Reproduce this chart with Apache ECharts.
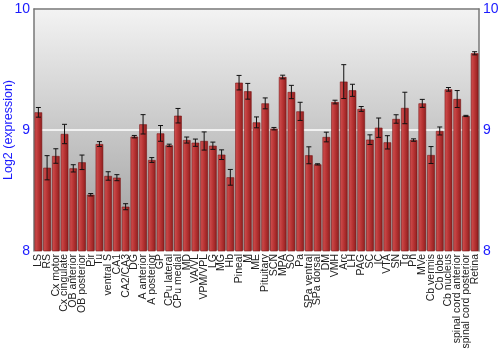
<!DOCTYPE html>
<html><head><meta charset="utf-8">
<script src="https://cdn.jsdelivr.net/npm/echarts@6/dist/echarts.min.js"></script>
<style>html,body{margin:0;padding:0;background:#fff}#c{width:500px;height:350px}</style>
</head><body><div id="c"></div>
<script>
var categories = ["LS","RS","Cx motor","Cx cingulate","OB anterior","OB posterior","Pir","Tu","ventral S","CA1","CA2/CA3","DG","A anterior","A posterior","GP","CPu lateral","CPu medial","MD","VA/VL","VPM/VPL","LG","MG","Hb","Pineal","M","ME","Pituitary","SCN","MPA","SO","Pa","SPa ventral","SPa dorsal","DM","VMH","Arc","LH","PAG","SC","IC","VTA","SN","Tg","Pn","MVe","Cb vermis","Cb lobe","Cb nucleus","spinal cord anterior","spinal cord posterior","Retina"];
var values = [9.146,8.688,8.785,8.967,8.683,8.733,8.465,8.884,8.620,8.606,8.366,8.945,9.047,8.752,8.972,8.873,9.118,8.917,8.895,8.909,8.870,8.796,8.609,9.391,9.320,9.063,9.220,9.011,9.438,9.314,9.154,8.791,8.716,8.942,9.231,9.400,9.328,9.174,8.920,9.019,8.898,9.091,9.182,8.917,9.220,8.793,8.992,9.336,9.256,9.116,9.634];
var errors = [0.04,0.10,0.06,0.08,0.03,0.06,0.01,0.02,0.035,0.025,0.025,0.01,0.08,0.02,0.065,0.01,0.06,0.025,0.03,0.075,0.03,0.04,0.065,0.06,0.065,0.045,0.045,0.01,0.015,0.055,0.075,0.07,0.005,0.04,0.015,0.14,0.05,0.02,0.04,0.08,0.055,0.035,0.13,0.01,0.033,0.07,0.033,0.015,0.07,0.005,0.013];
var yTicks = [8, 9, 10];

var chart = echarts.init(document.getElementById('c'), null, {renderer:'canvas'});
var blue = '#1a1aff';
var errData = values.map(function(v,i){ return [i, v - errors[i], v + errors[i]]; });
chart.setOption({
  animation: false,
  grid: {left: 34, right: 21, top: 9, bottom: 99, containLabel: false, outerBoundsMode: 'none', show: true, borderWidth: 0,
    backgroundColor: {type:'linear', x:0, y:0, x2:0, y2:1, colorStops:[{offset:0,color:'#f3f3f3'},{offset:1,color:'#9c9c9c'}]}},
  xAxis: [{
    type: 'category', data: categories,
    axisLine: {show: false}, axisTick: {show: false},
    axisLabel: {interval: 0, rotate: 90, fontSize: 10.5, color: '#222', fontFamily: 'Liberation Sans, Arial', margin: 3, hideOverlap: false}
  },{
    type: 'category', position: 'top', data: categories,
    axisLine: {show: true, lineStyle: {color: '#777', width: 1.5}}, axisTick: {show: false}, axisLabel: {show: false}
  }],
  yAxis: [{
    type: 'value', min: 8, max: 10, interval: 1,
    name: 'Log2 (expression)', nameLocation: 'middle', nameGap: 19, nameMoveOverlap: false,
    nameTextStyle: {color: blue, fontSize: 12.5, fontFamily: 'Liberation Sans, Arial'},
    axisLine: {show: true, lineStyle: {color: '#777', width: 1.5}}, axisTick: {show: false},
    axisLabel: {color: blue, fontSize: 14, margin: 4, fontFamily: 'Liberation Sans, Arial',
      formatter: function(v){ return yTicks.indexOf(v) >= 0 ? String(v) : ''; }},
    splitLine: {show: true, lineStyle: {color: '#ffffff', width: 1.5}}
  },{
    type: 'value', min: 8, max: 10, interval: 1, position: 'right',
    axisLine: {show: true, lineStyle: {color: '#777', width: 1.5}}, axisTick: {show: false},
    axisLabel: {color: blue, fontSize: 14, margin: 4, fontFamily: 'Liberation Sans, Arial'},
    splitLine: {show: false}
  }],
  series: [{
    type: 'bar', data: values, barCategoryGap: '13%',
    itemStyle: {
      color: {type:'linear', x:0, y:0, x2:1, y2:0, colorStops:[{offset:0,color:'#d25252'},{offset:0.5,color:'#b83434'},{offset:1,color:'#8e1e1e'}]},
      borderColor: '#7a1414', borderWidth: 0.6
    }
  },{
    type: 'custom', data: errData, z: 5,
    renderItem: function(params, api){
      var x = api.value(0);
      var lo = api.coord([x, api.value(1)]);
      var hi = api.coord([x, api.value(2)]);
      var hw = 2.5;
      var st = {stroke: '#111', lineWidth: 1};
      return {type: 'group', children: [
        {type:'line', shape:{x1:lo[0], y1:lo[1], x2:hi[0], y2:hi[1]}, style: st},
        {type:'line', shape:{x1:lo[0]-hw, y1:lo[1], x2:lo[0]+hw, y2:lo[1]}, style: st},
        {type:'line', shape:{x1:hi[0]-hw, y1:hi[1], x2:hi[0]+hw, y2:hi[1]}, style: st}
      ]};
    }
  }]
});
</script></body></html>
